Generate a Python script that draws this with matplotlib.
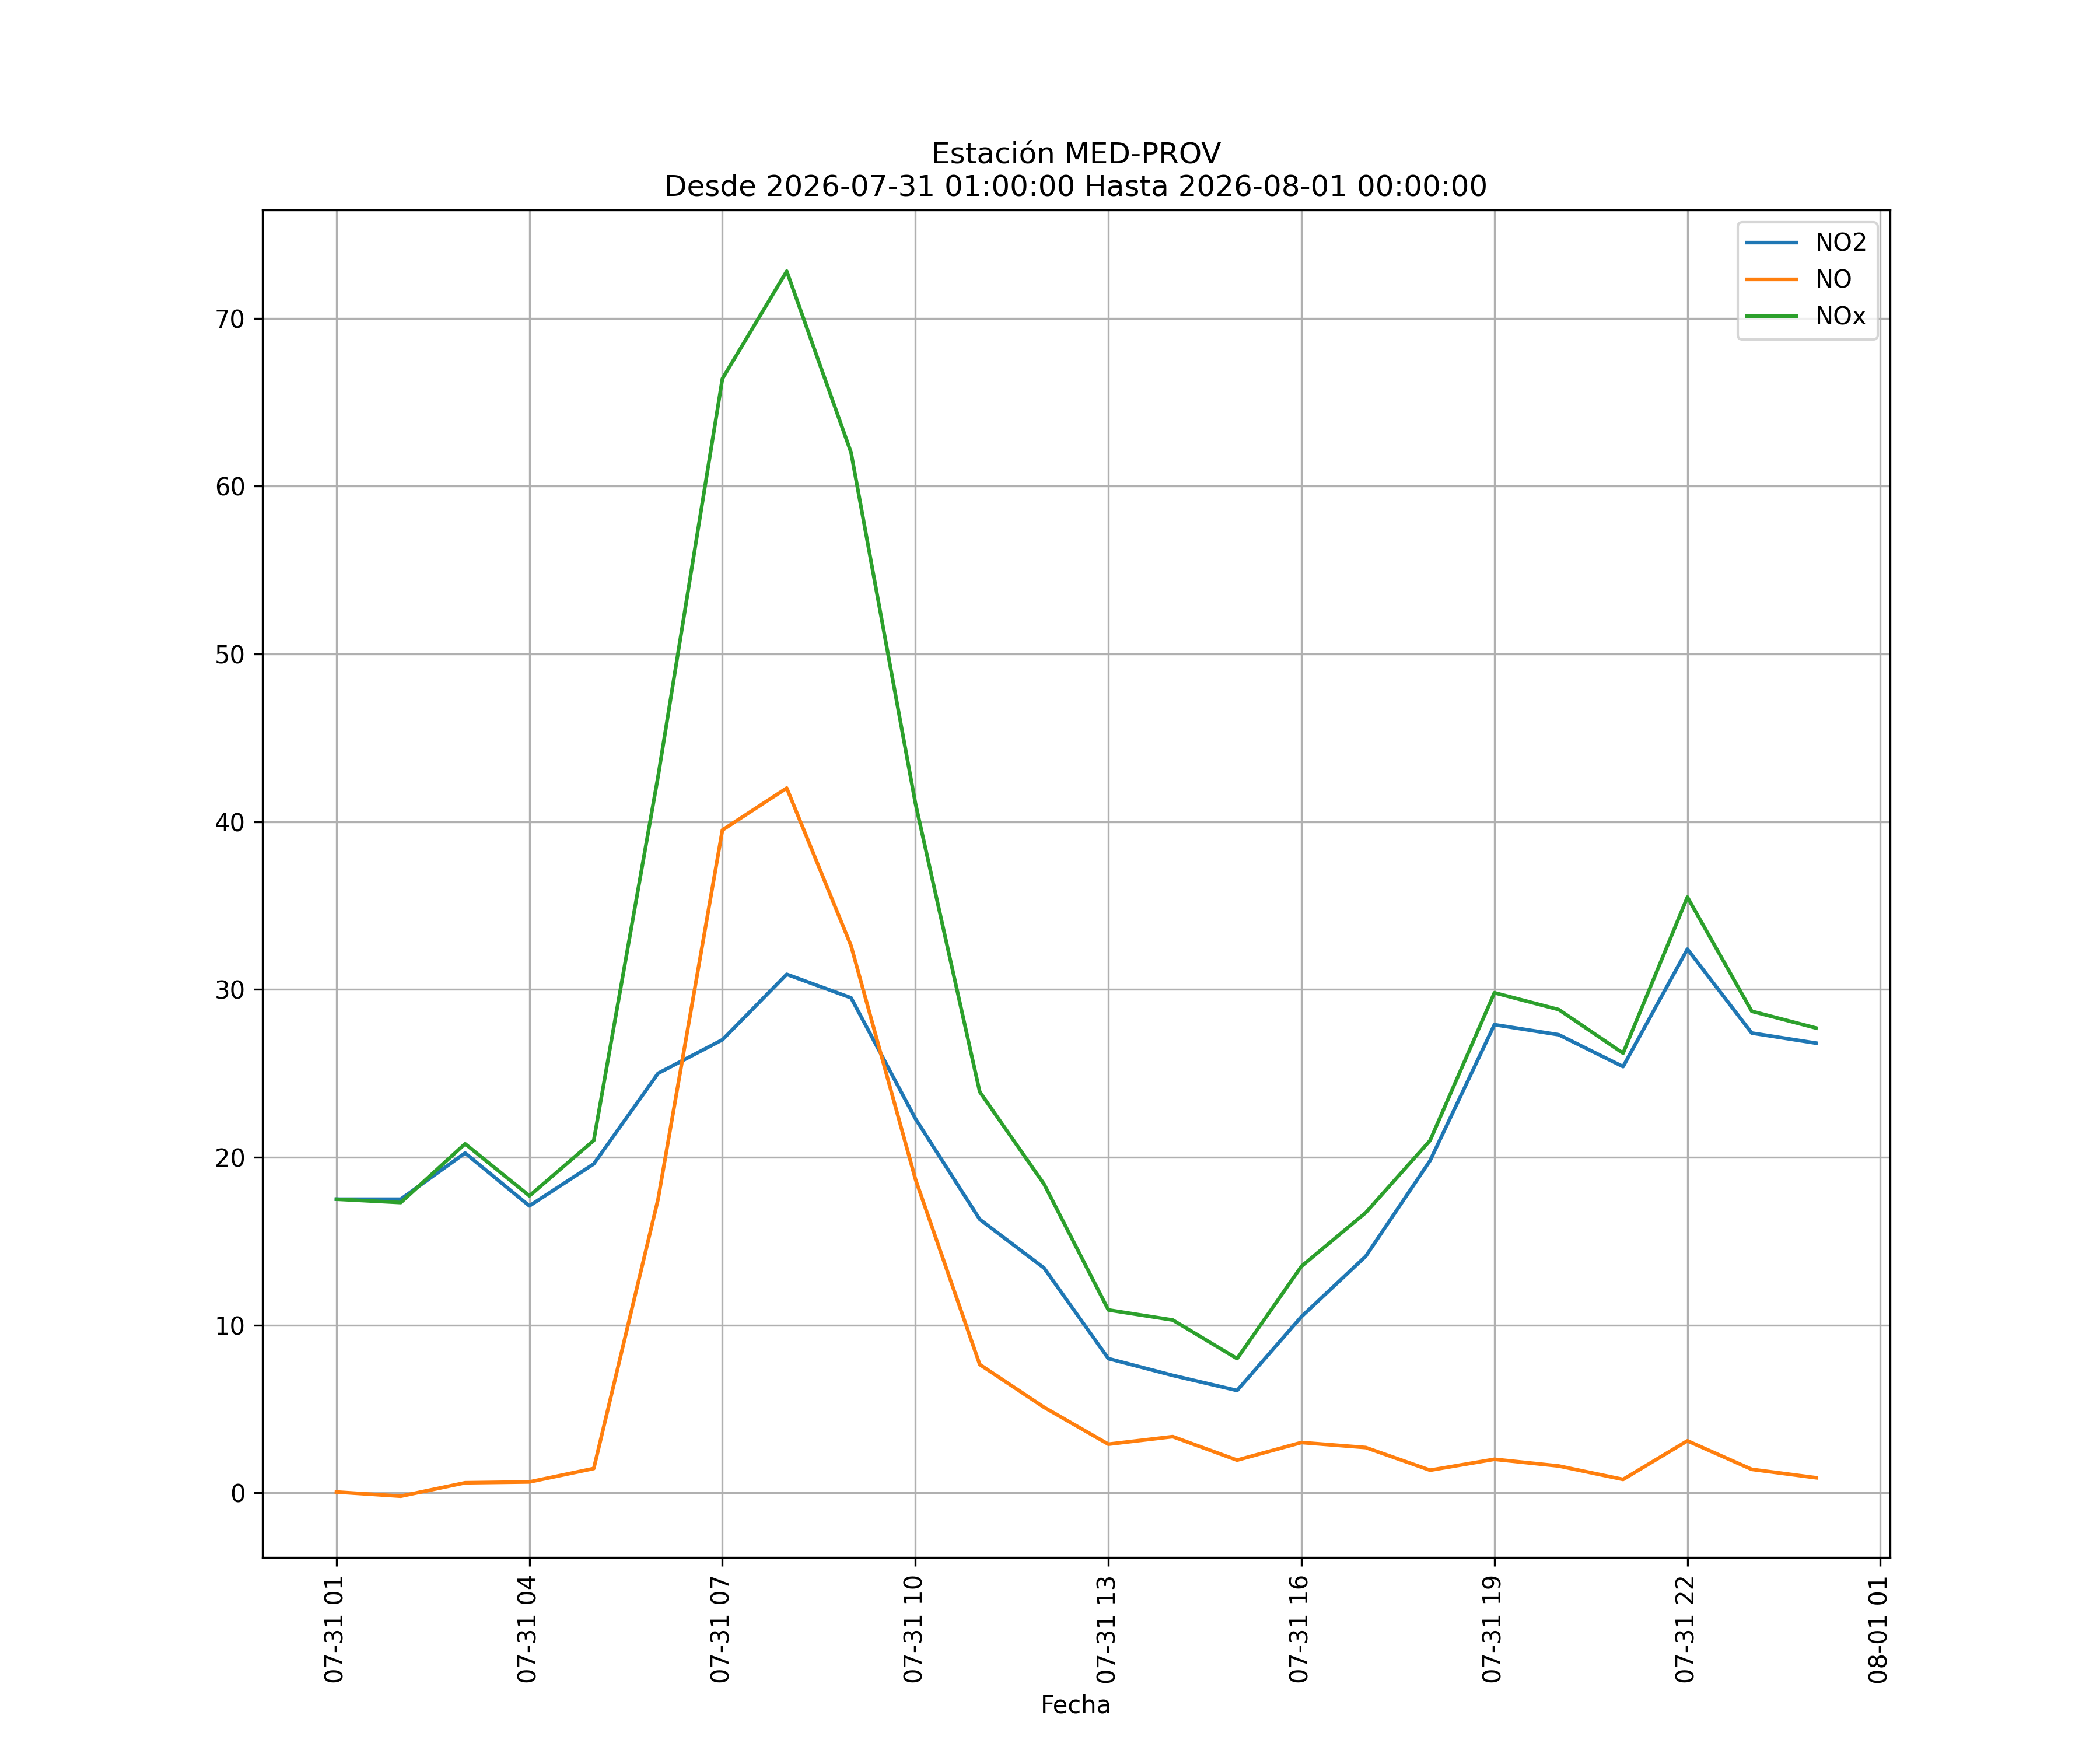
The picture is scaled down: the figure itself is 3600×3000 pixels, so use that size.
import matplotlib
matplotlib.use("Agg")
import matplotlib.pyplot as plt
import matplotlib.dates as mdates
import pandas as pd

# horas de 2026-07-31 01:00 a 2026-08-01 00:00
fechas = pd.date_range("2026-07-31 01:00:00", "2026-08-01 00:00:00", freq="h")

no2 = [17.5, 17.5, 20.25, 17.1, 19.6, 25.0, 27.0, 30.9, 29.5, 22.3, 16.3, 13.4,
       8.0, 7.0, 6.1, 10.5, 14.1, 19.8, 27.9, 27.3, 25.4, 32.4, 27.4, 26.8]
no = [0.05, -0.2, 0.6, 0.65, 1.45, 17.5, 39.5, 42.0, 32.6, 18.7, 7.65, 5.1,
      2.9, 3.35, 1.95, 3.0, 2.7, 1.35, 2.0, 1.6, 0.8, 3.1, 1.4, 0.9]
nox = [17.5, 17.3, 20.8, 17.7, 21.0, 42.7, 66.4, 72.8, 62.0, 41.1, 23.9, 18.4,
       10.9, 10.3, 8.0, 13.5, 16.7, 21.0, 29.8, 28.8, 26.2, 35.5, 28.7, 27.7]

fig, ax = plt.subplots(figsize=(12, 10))
ax.plot(fechas, no2, label="NO2")
ax.plot(fechas, no, label="NO")
ax.plot(fechas, nox, label="NOx")

ax.xaxis.set_major_locator(mdates.HourLocator(byhour=range(1, 24, 3)))
ax.xaxis.set_major_formatter(mdates.DateFormatter("%m-%d %H"))
plt.xticks(rotation=90)
ax.set_xlabel("Fecha")
ax.set_title("Estación MED-PROV\nDesde 2026-07-31 01:00:00 Hasta 2026-08-01 00:00:00")
ax.grid(True)
ax.legend(loc="upper right")

fig.savefig("out.png", dpi=300)
